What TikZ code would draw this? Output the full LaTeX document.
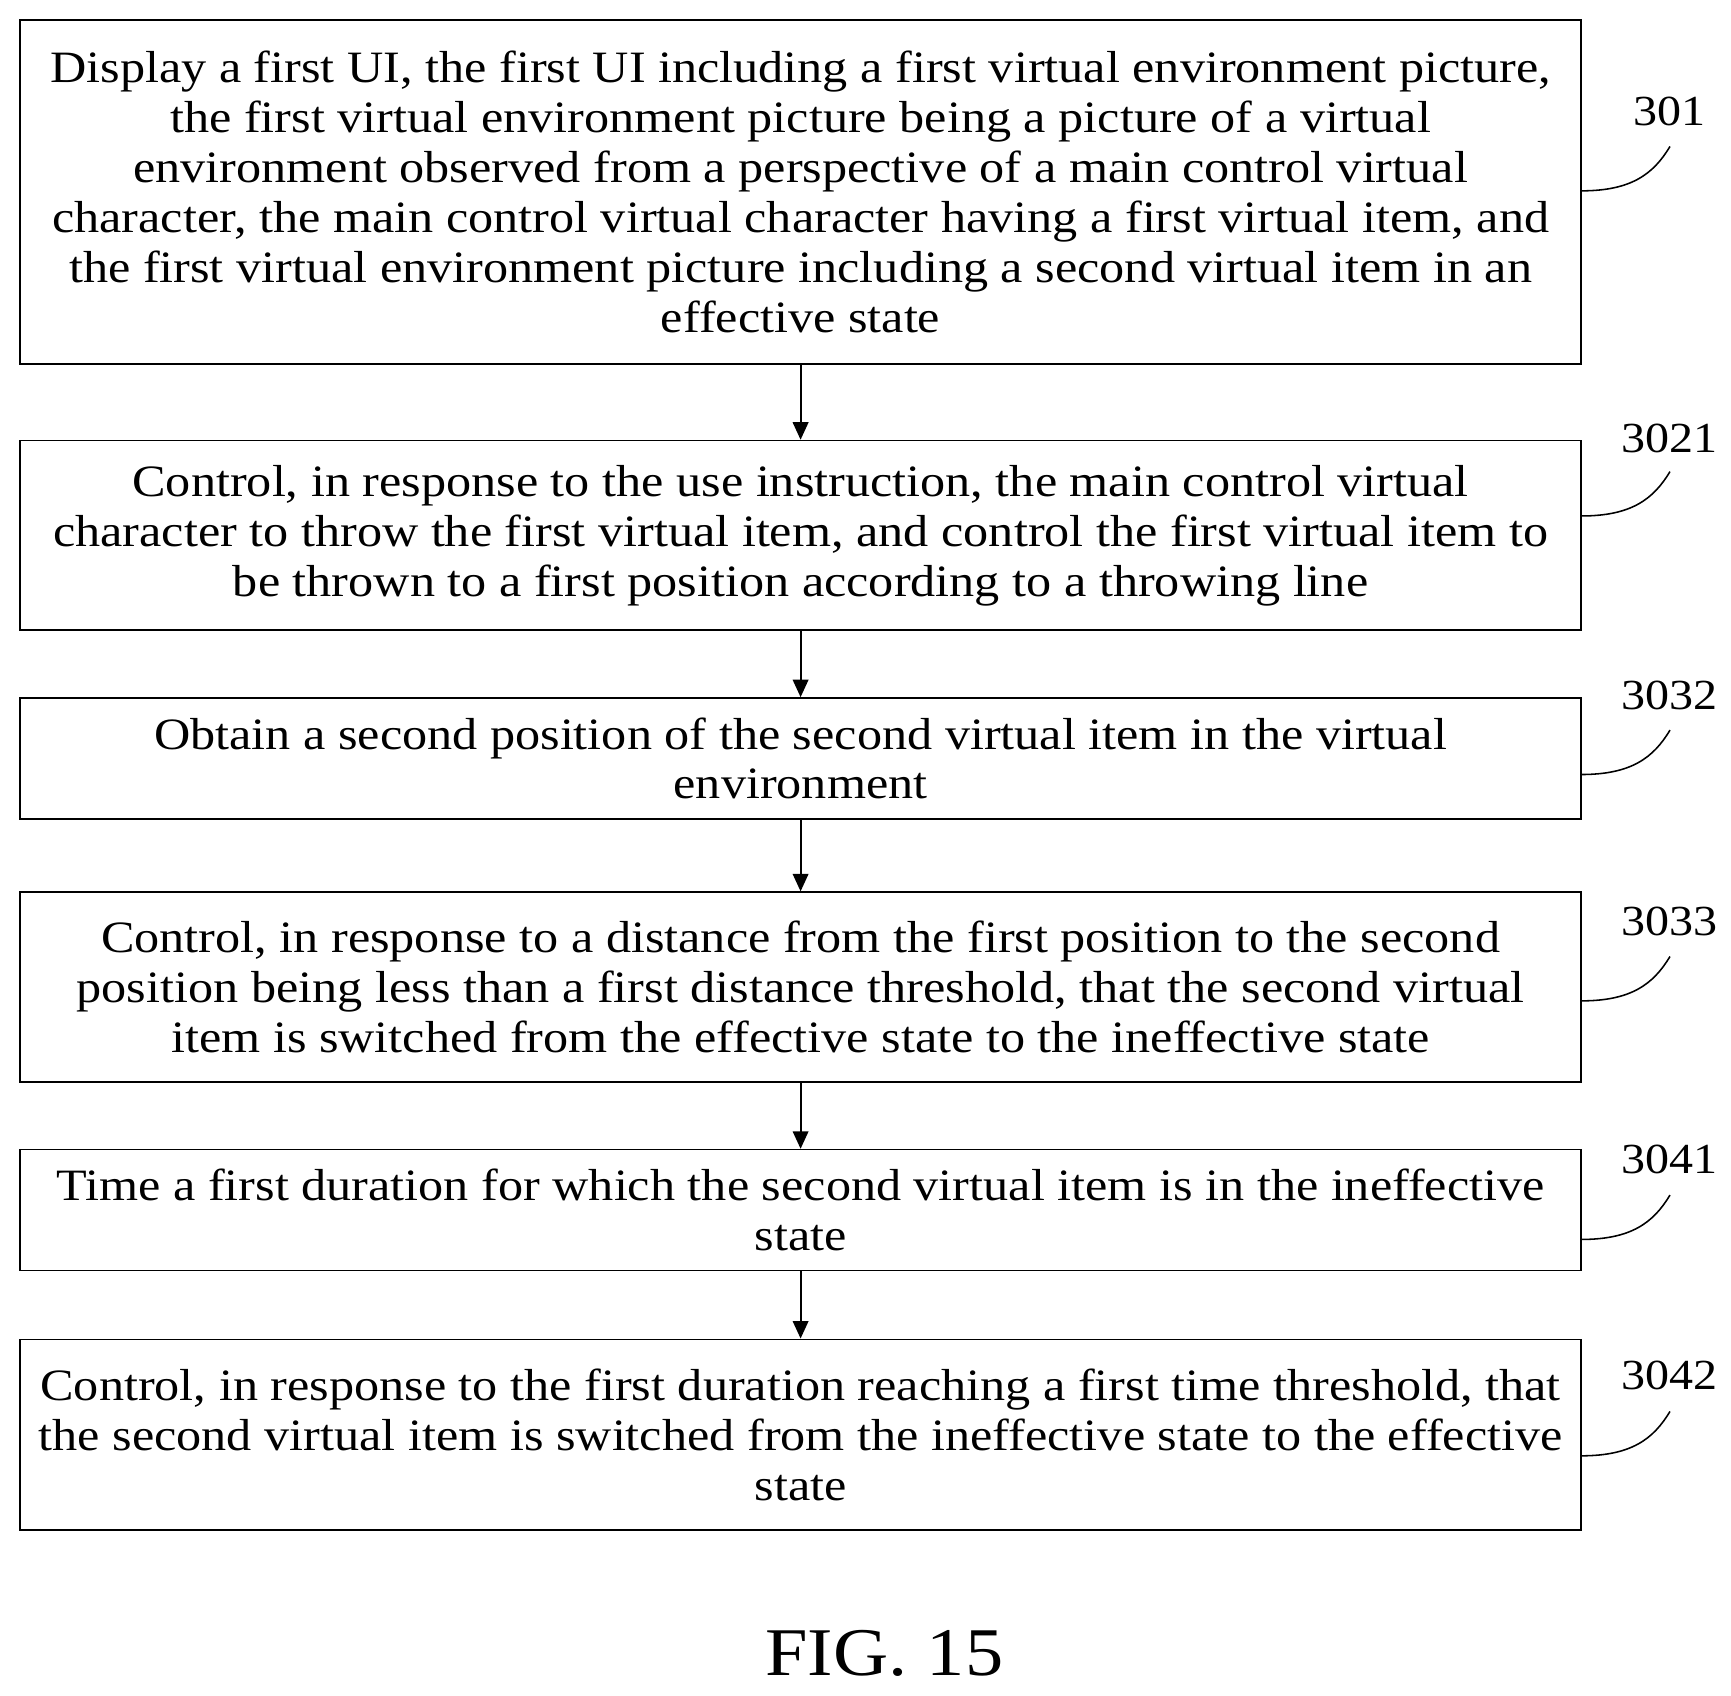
\documentclass[tikz,border=0pt]{standalone}
\usepackage{fontspec}
\setmainfont[FakeStretch=1.12]{Liberation Serif}
\usetikzlibrary{arrows.meta}
\begin{document}
\begin{tikzpicture}[x=0.02cm,y=-0.02cm,
 box/.style={draw,line width=0.8pt,minimum width=28.14cm,align=center,inner sep=0pt,font=\fontsize{23}{25.6}\selectfont},
 arr/.style={-{Triangle[length=9pt,width=8pt]},line width=1pt},
 lbl/.style={font=\fontsize{22}{26}\selectfont},
 lead/.style={line width=0.8pt}]
\useasboundingbox (0,0) rectangle (1560,1528);
\node[box,minimum height=6.2cm] (b1) at (721.5,173) {Display a first UI, the first UI including a first virtual environment picture,\\the first virtual environment picture being a picture of a virtual\\environment observed from a perspective of a main control virtual\\character, the main control virtual character having a first virtual item, and\\the first virtual environment picture including a second virtual item in an\\effective state};
\node[box,minimum height=3.42cm] (b2) at (721.5,482.5) {Control, in response to the use instruction, the main control virtual\\character to throw the first virtual item, and control the first virtual item to\\be thrown to a first position according to a throwing line};
\node[box,minimum height=2.18cm] (b3) at (721.5,683.5) {Obtain a second position of the second virtual item in the virtual\\environment};
\node[box,minimum height=3.42cm] (b4) at (721.5,889.5) {Control, in response to a distance from the first position to the second\\position being less than a first distance threshold, that the second virtual\\item is switched from the effective state to the ineffective state};
\node[box,minimum height=2.18cm] (b5) at (721.5,1090.5) {Time a first duration for which the second virtual item is in the ineffective\\state};
\node[box,minimum height=3.44cm] (b6) at (721.5,1293) {Control, in response to the first duration reaching a first time threshold, that\\the second virtual item is switched from the ineffective state to the effective\\state};
\foreach \a/\b in {b1/b2,b2/b3,b3/b4,b4/b5,b5/b6} \draw[arr] (\a.south) -- (\b.north);
\foreach \n/\t/\ly/\cy in {b1/301/100/172,b2/3021/395/465,b3/3032/627/698,b4/3033/830/902,b5/3041/1045/1117,b6/3042/1240/1312}{
 \node[lbl] (l\t) at (1505,\ly) {\t};
 \coordinate (s\t) at (1425,\cy);
 \coordinate (e\t) at (1505,\cy-40);
 \draw[lead] (s\t) .. controls (1470,\cy) and (1490,\cy-15) .. (e\t);
}
\node[font=\fontsize{35}{40}\selectfont] (fig) at (797,1490) {FIG. 15};
\end{tikzpicture}
\end{document}
